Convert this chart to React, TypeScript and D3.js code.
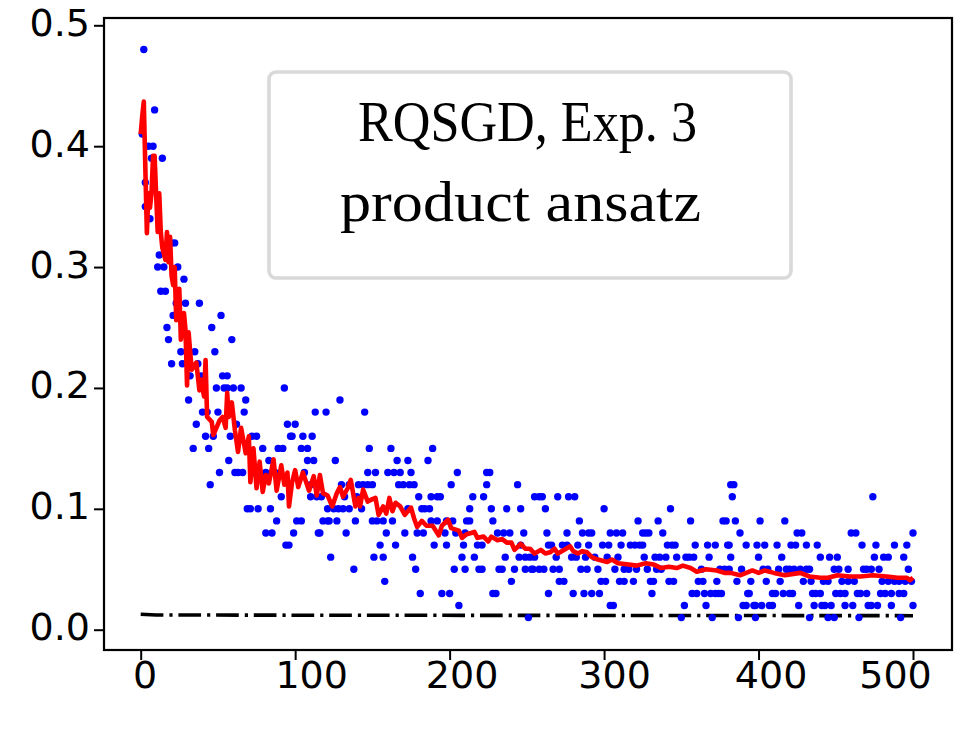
import { useEffect, useRef } from 'react';
import * as d3 from 'd3';

const xTicks = [0, 100, 200, 300, 400, 500];
const yTicks = [0, 0.1, 0.2, 0.3, 0.4, 0.5];
const titleLines = ['RQSGD, Exp. 3', 'product ansatz'];

// measured values per level, the experiment only gives multiples of 0.01
const levels = [
  0.48, 0.43, 0.41, 0.4, 0.39, 0.37, 0.35, 0.34, 0.32, 0.31, 0.3, 0.29, 0.28, 0.27, 0.26, 0.25,
  0.24, 0.23, 0.22, 0.21, 0.2, 0.19, 0.18, 0.17, 0.16, 0.15, 0.14, 0.13, 0.12, 0.11, 0.1, 0.09,
  0.08, 0.07, 0.06, 0.05, 0.04, 0.03, 0.02, 0.01,
];
const levelSteps = [
  [2], [9], [1], [5, 8], [7, 14], [3], [3], [6], [20, 22], [12], [11, 15, 24], [28], [13, 16],
  [23, 29, 38], [21, 52], [17, 46], [18, 59], [26, 35, 48], [20, 27, 37], [32, 39, 53, 56],
  [49, 54, 56, 60, 65, 93], [31, 68, 129], [40, 43, 50, 67, 113, 120, 145], [36, 62, 95, 100],
  [42, 47, 58, 72, 75, 97, 98, 105, 111],
  [34, 44, 79, 89, 92, 104, 108, 148, 162, 189],
  [57, 83, 108, 112, 126, 166, 173, 186],
  [51, 61, 63, 66, 81, 87, 106, 147, 152, 160, 164, 168, 175, 205, 224, 226],
  [45, 110, 130, 135, 141, 144, 147, 150, 167, 170, 174, 177, 201, 224, 244, 382, 384],
  [91, 110, 114, 117, 132, 140, 180, 188, 192, 194, 215, 222, 255, 258, 260, 270, 277, 281, 383, 474],
  [69, 71, 76, 84, 121, 125, 128, 131, 135, 143, 173, 182, 184, 187, 213, 227, 237, 246, 262, 300, 343],
  [88, 101, 104, 118, 121, 122, 127, 139, 150, 153, 157, 163, 188, 192, 198, 202, 211, 213, 228, 284,
    322, 335, 356, 377, 379, 385, 401, 417],
  [81, 85, 99, 115, 116, 133, 159, 171, 179, 183, 197, 204, 210, 231, 235, 239, 248, 263, 276, 286,
    290, 292, 304, 308, 312, 325, 327, 329, 338, 388, 425, 428, 460, 463, 500],
  [94, 96, 155, 165, 190, 198, 209, 218, 221, 246, 264, 266, 273, 276, 283, 290, 299, 303, 311, 317,
    320, 323, 325, 341, 344, 346, 359, 367, 372, 380, 381, 392, 399, 404, 412, 421, 424, 431, 438, 467,
    476, 488, 496],
  [123, 151, 157, 176, 208, 216, 236, 245, 249, 252, 255, 269, 279, 282, 288, 294, 302, 309, 326, 333,
    336, 340, 347, 353, 355, 358, 368, 382, 400, 415, 440, 446, 451, 475, 481, 484, 494],
  [138, 178, 203, 210, 219, 221, 232, 234, 242, 249, 253, 254, 258, 261, 267, 271, 285, 289, 296, 307,
    313, 316, 321, 328, 334, 337, 363, 375, 378, 381, 389, 403, 406, 413, 418, 420, 423, 427, 431, 433,
    449, 452, 458, 468, 470, 473, 478, 497],
  [158, 240, 271, 274, 298, 301, 310, 313, 319, 330, 332, 342, 345, 361, 364, 373, 386, 395, 405, 414,
    429, 434, 442, 445, 454, 458, 462, 480, 484, 488, 491, 495, 499],
  [181, 195, 200, 228, 230, 264, 280, 287, 292, 297, 331, 357, 360, 365, 369, 372, 374, 376, 393, 394,
    409, 411, 416, 420, 422, 435, 437, 440, 450, 453, 456, 464, 466, 470, 479, 482, 486, 491, 494],
  [206, 304, 306, 352, 366, 390, 392, 397, 398, 402, 407, 409, 426, 436, 441, 443, 447, 456, 461, 471,
    473, 477, 486, 500],
  [251, 350, 370, 387, 398, 433, 445, 449, 465, 492],
];

// running mean, red curve
const meanSteps = [
  0, 1, 2, 4, 5, 6, 7, 8, 9, 10, 11, 12, 13, 14, 16, 17, 18, 19, 20, 21, 22, 23, 25, 26, 28, 29, 30,
  31, 33, 36, 38, 39, 41, 42, 43, 46, 47, 51, 53, 55, 56, 57, 59, 61, 63, 65, 67, 68, 70, 71, 73, 75,
  77, 79, 81, 83, 86, 88, 91, 93, 95, 96, 98, 100, 102, 105, 109, 112, 114, 116, 118, 121, 124, 127,
  129, 131, 134, 136, 139, 141, 142, 144, 147, 150, 152, 154, 157, 159, 161, 163, 165, 168, 171, 175,
  177, 179, 182, 185, 189, 193, 195, 199, 201, 206, 208, 211, 214, 216, 218, 222, 225, 227, 231, 234,
  237, 240, 242, 246, 249, 252, 255, 259, 262, 265, 268, 270, 274, 278, 280, 283, 286, 289, 292, 296,
  302, 305, 309, 316, 321, 327, 332, 337, 342, 347, 351, 356, 360, 366, 373, 378, 382, 388, 396, 400,
  404, 410, 417, 427, 433, 440, 445, 451, 459, 466, 474, 483, 490, 496, 498, 500,
];
const meanValues = [
  0.41, 0.425, 0.437, 0.328, 0.361, 0.349, 0.361, 0.392, 0.392, 0.36, 0.329, 0.361, 0.329, 0.316,
  0.306, 0.329, 0.304, 0.325, 0.293, 0.285, 0.3, 0.256, 0.282, 0.24, 0.262, 0.248, 0.202, 0.246, 0.215,
  0.221, 0.198, 0.207, 0.193, 0.223, 0.176, 0.172, 0.161, 0.173, 0.176, 0.167, 0.196, 0.176, 0.188,
  0.165, 0.147, 0.167, 0.153, 0.146, 0.16, 0.122, 0.15, 0.117, 0.139, 0.114, 0.128, 0.121, 0.141,
  0.115, 0.136, 0.12, 0.13, 0.102, 0.122, 0.132, 0.118, 0.13, 0.115, 0.127, 0.111, 0.128, 0.113, 0.111,
  0.102, 0.113, 0.118, 0.11, 0.117, 0.124, 0.102, 0.109, 0.102, 0.116, 0.106, 0.108, 0.109, 0.095,
  0.102, 0.096, 0.109, 0.098, 0.105, 0.102, 0.095, 0.101, 0.092, 0.085, 0.09, 0.086, 0.086, 0.078,
  0.086, 0.091, 0.084, 0.082, 0.076, 0.079, 0.08, 0.081, 0.076, 0.077, 0.073, 0.077, 0.074, 0.075,
  0.072, 0.072, 0.066, 0.071, 0.067, 0.067, 0.063, 0.066, 0.063, 0.064, 0.067, 0.063, 0.066, 0.069,
  0.065, 0.063, 0.065, 0.064, 0.06, 0.058, 0.056, 0.058, 0.055, 0.054, 0.053, 0.055, 0.054, 0.051,
  0.052, 0.051, 0.053, 0.051, 0.048, 0.05, 0.049, 0.047, 0.047, 0.045, 0.049, 0.047, 0.049, 0.047,
  0.045, 0.047, 0.044, 0.043, 0.043, 0.045, 0.044, 0.044, 0.045, 0.044, 0.043, 0.043, 0.041, 0.043,
];

// exact reference, black dash-dot
const exactSteps = [0, 10, 100, 500];
const exactValues = [0.0128, 0.0122, 0.012, 0.0116];

const width = 969;
const height = 739;
const margin = { top: 18, right: 17, bottom: 89, left: 104 };
const tickFont = '38px "DejaVu Sans"';

export default function App() {
  const svgRef = useRef<SVGSVGElement>(null);

  useEffect(() => {
    if (!svgRef.current) return;
    const svg = d3.select(svgRef.current);
    svg.selectAll('*').remove();

    const left = margin.left;
    const right = width - margin.right;
    const top = margin.top;
    const bottom = height - margin.bottom;

    const x = d3.scaleLinear().domain([0, 500]).range([140.7, 913]);
    const y = d3.scaleLinear().domain([0, 0.5]).range([629.7, 25.3]);

    const exactLine = d3
      .line<number>()
      .x((d) => x(d))
      .y((_, i) => y(exactValues[i]));
    const meanLine = d3
      .line<number>()
      .x((d) => x(d))
      .y((_, i) => y(meanValues[i]));

    svg
      .append('path')
      .attr('d', exactLine(exactSteps))
      .attr('fill', 'none')
      .attr('stroke', '#000')
      .attr('stroke-width', 3.6)
      .attr('stroke-dasharray', '22.7 6 3.2 5.8');

    levels.forEach((level, i) => {
      svg
        .append('g')
        .selectAll('circle')
        .data(levelSteps[i])
        .join('circle')
        .attr('cx', (d) => x(d))
        .attr('cy', y(level))
        .attr('r', 3.7)
        .attr('fill', '#0000ff');
    });

    svg
      .append('path')
      .attr('d', meanLine(meanSteps))
      .attr('fill', 'none')
      .attr('stroke', '#ff0000')
      .attr('stroke-width', 4.6)
      .attr('stroke-linejoin', 'round');

    // frame
    svg
      .append('rect')
      .attr('x', left)
      .attr('y', top)
      .attr('width', right - left)
      .attr('height', bottom - top)
      .attr('fill', 'none')
      .attr('stroke', '#000')
      .attr('stroke-width', 2.2);

    // ticks
    const xAxis = svg
      .append('g')
      .attr('transform', `translate(0,${bottom})`)
      .call(d3.axisBottom(x).tickValues(xTicks).tickSize(10).tickSizeOuter(0));
    xAxis.select('.domain').remove();
    xAxis.selectAll('line').attr('stroke', '#000').attr('stroke-width', 2);
    const xShift = [4, 16, 12, 10, 12, -18];
    xAxis
      .selectAll<SVGTextElement, number>('text')
      .attr('y', 0)
      .attr('dy', 0)
      .attr('transform', (_, i) => `translate(${xShift[i]},38)`)
      .style('font', tickFont)
      .attr('fill', '#000');

    const yAxis = svg
      .append('g')
      .attr('transform', `translate(${left},0)`)
      .call(
        d3
          .axisLeft(y)
          .tickValues(yTicks)
          .tickFormat(d3.format('.1f'))
          .tickSize(10)
          .tickSizeOuter(0)
      );
    yAxis.select('.domain').remove();
    yAxis.selectAll('line').attr('stroke', '#000').attr('stroke-width', 2);
    yAxis
      .selectAll('text')
      .attr('x', -14)
      .attr('dy', 0)
      .attr('y', 10)
      .style('font', tickFont)
      .attr('fill', '#000');

    // annotation box
    svg
      .append('rect')
      .attr('x', 269)
      .attr('y', 72)
      .attr('width', 522)
      .attr('height', 206)
      .attr('rx', 7)
      .attr('fill', '#fff')
      .attr('stroke', '#d9d9d9')
      .attr('stroke-width', 3.6);

    svg
      .selectAll('text.title')
      .data(titleLines)
      .join('text')
      .attr('class', 'title')
      .attr('x', (_, i) => (i === 0 ? 358 : 340))
      .attr('y', (_, i) => (i === 0 ? 141 : 221))
      .attr('textLength', (_, i) => (i === 0 ? 339 : 361))
      .attr('lengthAdjust', 'spacingAndGlyphs')
      .style('font', '56px "Liberation Serif"')
      .attr('fill', '#000')
      .text((d) => d);
  }, []);

  return (
    <svg
      ref={svgRef}
      width={width}
      height={height}
      style={{ position: 'absolute', left: 0, top: 0, background: '#fff' }}
    />
  );
}
